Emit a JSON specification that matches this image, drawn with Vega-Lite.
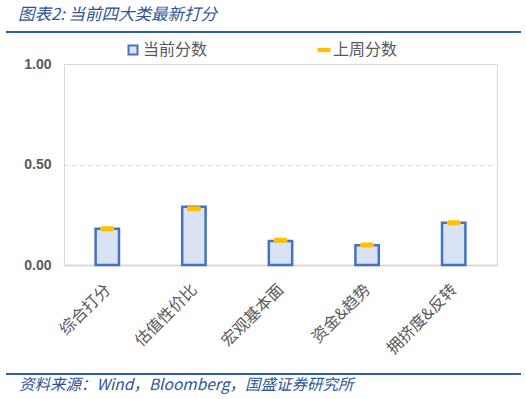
{
  "$schema": "https://vega.github.io/schema/vega-lite/v6.json",
  "background": "white",
  "padding": {"left": 5, "top": 6, "right": 5, "bottom": 2},
  "spacing": 10,
  "config": {"view": {"stroke": null}, "font": "Noto Sans CJK SC"},
  "vconcat": [
    {
      "width": 457,
      "height": 2,
      "data": {"values": [{"线": "页眉"}]},
      "mark": {"type": "rect", "color": "#2e5ea8"},
      "encoding": {
        "x": {"field": "线", "type": "nominal", "scale": {"paddingInner": 0, "paddingOuter": 0, "range": [-58, 457]},
          "axis": {"title": null, "labels": false, "ticks": false, "domain": false, "minExtent": 13, "maxExtent": 13}}
      },
      "title": {"text": "图表2:  当前四大类最新打分", "anchor": "start", "dx": 12, "fontSize": 16.5, "fontStyle": "italic", "fontWeight": "normal", "color": "#2f5597", "font": "Noto Sans CJK SC", "offset": 8}
    },
    {
      "width": 433,
      "height": 201,
      "view": {"stroke": "#d9d9d9", "strokeWidth": 1},
      "data": {"values": [
        {"类别": "综合打分", "当前分数": 0.18, "上周分数": 0.18},
        {"类别": "估值性价比", "当前分数": 0.29, "上周分数": 0.28},
        {"类别": "宏观基本面", "当前分数": 0.12, "上周分数": 0.123},
        {"类别": "资金&趋势", "当前分数": 0.098, "上周分数": 0.10},
        {"类别": "拥挤度&反转", "当前分数": 0.21, "上周分数": 0.21}
      ]},
      "transform": [{"fold": ["当前分数", "上周分数"], "as": ["系列", "分数"]}],
      "encoding": {
        "x": {"field": "类别", "type": "nominal", "sort": null,
          "axis": {"title": null, "labelAngle": -45, "labelFontSize": 16, "labelColor": "#595959", "labelFont": "Noto Sans CJK SC", "domainColor": "#d9d9d9", "domainWidth": 2, "ticks": false, "labelPadding": 16, "labelOffset": -5, "minExtent": 97}},
        "y": {"field": "分数", "type": "quantitative", "scale": {"domain": [0, 1]},
          "axis": {"title": null, "values": [0, 0.5, 1], "format": ".2f", "labelFontSize": 14, "labelFontWeight": "bold", "labelColor": "#595959", "labelFont": "Liberation Sans", "domain": true, "domainColor": "#d9d9d9", "ticks": false, "grid": true, "gridDash": [4, 4], "gridColor": "#d9d9d9", "labelPadding": 13, "minExtent": 58}}
      },
      "layer": [
        {
          "transform": [{"filter": "datum['系列'] === '当前分数'"}],
          "mark": {"type": "bar", "width": {"band": 0.3}, "stroke": "#4472c4", "strokeWidth": 2.5},
          "encoding": {
            "fill": {"field": "系列", "type": "nominal", "scale": {"range": ["#dae3f3"]},
              "legend": {"orient": "none", "legendX": 61, "legendY": 11, "title": null, "direction": "horizontal", "symbolType": "square", "symbolSize": 81, "symbolStrokeColor": "#4472c4", "symbolStrokeWidth": 2, "labelFontSize": 16, "labelColor": "#595959", "labelFont": "Noto Sans CJK SC", "labelOffset": 2}}
          }
        },
        {
          "transform": [{"filter": "datum['系列'] === '上周分数'"}],
          "mark": {"type": "tick", "orient": "horizontal", "thickness": 5, "size": 14, "cornerRadius": 2, "opacity": 1},
          "encoding": {
            "color": {"field": "系列", "type": "nominal", "scale": {"range": ["#ffc000"]},
              "legend": {"orient": "none", "legendX": 252, "legendY": 11, "title": null, "direction": "horizontal", "symbolType": "M-1,-0.32H1V0.32H-1Z", "symbolSize": 169, "symbolStrokeWidth": 0, "symbolOpacity": 1, "labelFontSize": 16, "labelColor": "#595959", "labelFont": "Noto Sans CJK SC", "labelOffset": 1}}
          }
        }
      ]
    },
    {
      "width": 457,
      "height": 2,
      "data": {"values": [{"线": "页脚"}]},
      "mark": {"type": "rect", "color": "#2e5ea8"},
      "encoding": {
        "x": {"field": "线", "type": "nominal", "scale": {"paddingInner": 0, "paddingOuter": 0, "range": [-58, 457]},
          "axis": null}
      },
      "title": {"text": "资料来源：Wind，Bloomberg，国盛证券研究所", "orient": "bottom", "anchor": "start", "dx": 13, "fontSize": 15.5, "fontStyle": "italic", "fontWeight": "normal", "color": "#2f5597", "font": "Noto Sans CJK SC", "offset": 3}
    }
  ]
}
